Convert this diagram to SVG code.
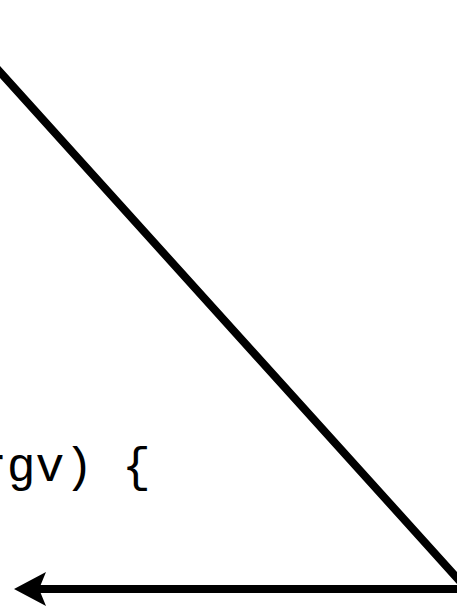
<svg xmlns="http://www.w3.org/2000/svg" width="457" height="606" viewBox="0 0 457 606">
  <style>
    .edge { fill: none; stroke: #000; stroke-width: 8; stroke-linejoin: miter; }
    .code { font-family: "Liberation Mono", "Courier New", monospace; font-size: 48px; fill: #000; }
  </style>
  <defs>
    <marker id="arrow" markerUnits="userSpaceOnUse" markerWidth="40" markerHeight="40" refX="0" refY="0" orient="auto" overflow="visible" viewBox="-10 -20 40 40">
      <path d="M 25 0 L -7 -17 L 0 0 L -7 17 Z" fill="#000"/>
    </marker>
  </defs>
  <rect width="457" height="606" fill="#fff"/>
  <g id="code-text">
    <text class="code" x="-22" y="481" xml:space="preserve">rgv) {</text>
  </g>
  <g id="connectors">
    <path class="edge" d="M -10 61 L 467 589 L 39 589" marker-end="url(#arrow)"/>
  </g>
</svg>
